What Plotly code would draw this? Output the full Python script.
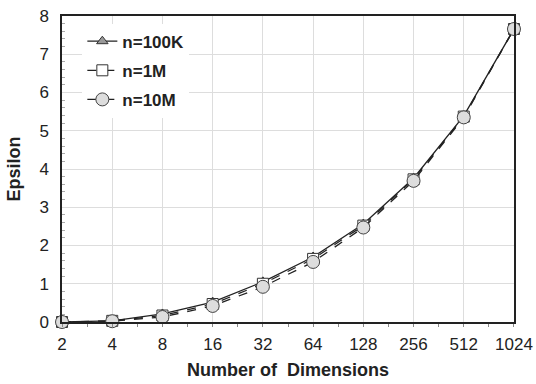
import plotly.graph_objects as go
import numpy as np

dims = [2, 4, 8, 16, 32, 64, 128, 256, 512, 1024]
tick_labels = [str(d) for d in dims]
eps_100k = [0.0, 0.03, 0.21, 0.52, 1.05, 1.70, 2.56, 3.76, 5.39, 7.66]
eps_1m = [0.0, 0.03, 0.17, 0.47, 1.00, 1.65, 2.52, 3.73, 5.37, 7.66]
eps_10m = [0.0, 0.02, 0.13, 0.42, 0.92, 1.57, 2.47, 3.69, 5.35, 7.66]

fig = go.Figure()
fig.add_trace(go.Scatter(x=dims, y=eps_100k, name="n=100K", mode="lines+markers",
                         legendgroup="a",
                         line=dict(color="#222222", width=1.3, dash="solid"),
                         marker=dict(symbol="triangle-up", size=10, color="#999999",
                                     line=dict(color="#333333", width=1)),
                         cliponaxis=False))
fig.add_trace(go.Scatter(x=dims, y=eps_1m, name="n=1M", mode="lines+markers",
                         legendgroup="b",
                         line=dict(color="#222222", width=1.3, dash="dash"),
                         marker=dict(symbol="square", size=11, color="#ffffff",
                                     line=dict(color="#333333", width=1)),
                         cliponaxis=False))
fig.add_trace(go.Scatter(x=dims, y=eps_10m, name="n=10M", mode="lines+markers",
                         legendgroup="c",
                         line=dict(color="#222222", width=1.3, dash="dash"),
                         marker=dict(symbol="circle", size=13, color="#dddddd",
                                     line=dict(color="#444444", width=1)),
                         cliponaxis=False))

mids = [float(np.sqrt(dims[i] * dims[i + 1])) for i in range(len(dims) - 1)]
eps = 1e-4

fig.update_layout(
    width=536, height=384,
    margin=dict(l=62, r=22, t=16, b=62),
    paper_bgcolor="white", plot_bgcolor="white",
    font=dict(family="Liberation Sans, Arial, sans-serif", size=17, color="#222222"),
    showlegend=True,
    legend=dict(x=0.045, y=0.975, xanchor="left", yanchor="top",
                bgcolor="rgba(255,255,255,1)", borderwidth=0,
                font=dict(size=17, family="Liberation Sans, Arial, sans-serif", weight="bold"),
                itemwidth=30, tracegroupgap=4),
    xaxis=dict(type="log", range=[np.log10(2) - eps, np.log10(1024) + eps],
               tickvals=dims, ticktext=tick_labels, automargin=False,
               showline=True, linecolor="#222222", linewidth=1.5, mirror=True,
               showgrid=True, gridcolor="#dddddd", gridwidth=1,
               ticks="outside", ticklen=3, tickcolor="#888888",
               ticklabelstandoff=3,
               zeroline=False,
               minor=dict(tickvals=mids, ticks="outside", ticklen=3, tickcolor="#888888", showgrid=False),
               title=dict(text="Number of  Dimensions", font=dict(size=18, weight="bold"), standoff=10)),
    yaxis=dict(range=[0, 8], dtick=1, tick0=0, automargin=False,
               showline=True, linecolor="#222222", linewidth=1.5, mirror=True,
               showgrid=True, gridcolor="#dddddd", gridwidth=1,
               ticks="", zeroline=False,
               ticklabelstandoff=8,
               minor=dict(dtick=0.2, ticks="inside", ticklen=3, tickcolor="#aaaaaa", showgrid=False),
               title=dict(text="Epsilon", font=dict(size=18, weight="bold"), standoff=14)),
)

fig.write_html("out.html")
